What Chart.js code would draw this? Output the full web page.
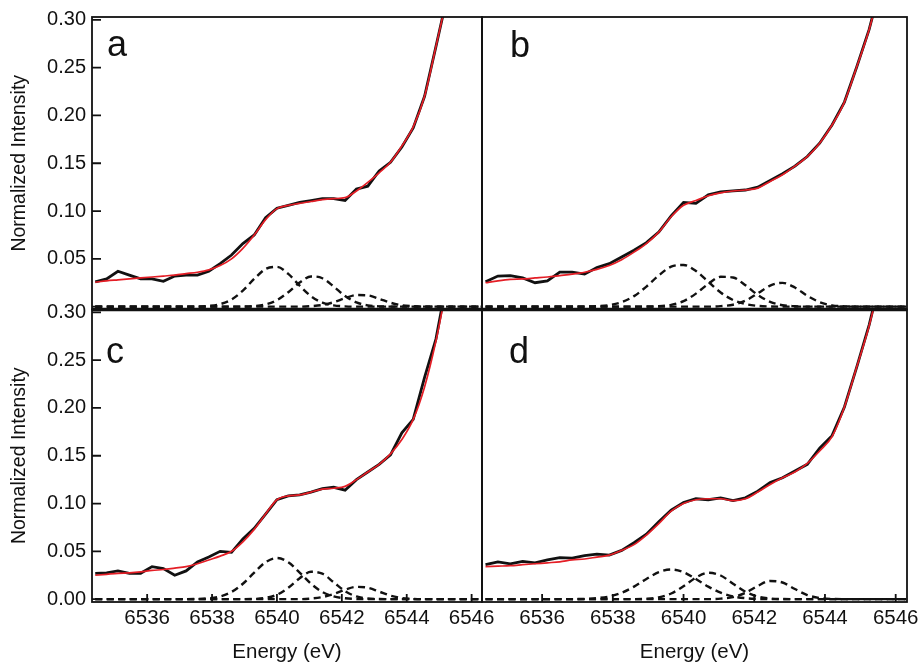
<!DOCTYPE html>
<html>
<head>
<meta charset="utf-8">
<script src="https://cdn.jsdelivr.net/npm/chart.js@4.4.1/dist/chart.umd.min.js"></script>
<style>
html,body{margin:0;padding:0;background:#fff;}
#wrap{width:920px;height:665px;position:relative;}
</style>
</head>
<body>
<div id="wrap"><canvas id="chart" width="920" height="665"></canvas></div>
<script>
// ---- data ----
const energy = [6534.40, 6534.75, 6535.10, 6535.45, 6535.80, 6536.15, 6536.50, 6536.85, 6537.20, 6537.55,
                6537.90, 6538.25, 6538.60, 6538.95, 6539.30, 6539.65, 6540.00, 6540.35, 6540.70, 6541.05,
                6541.40, 6541.75, 6542.10, 6542.45, 6542.80, 6543.15, 6543.50, 6543.85, 6544.20, 6544.55,
                6544.90, 6545.25, 6545.60, 6545.95, 6546.30];

const aData = [0.026, 0.029, 0.037, 0.033, 0.029, 0.029, 0.0265, 0.032, 0.033, 0.033,
               0.037, 0.045, 0.054, 0.066, 0.075, 0.093, 0.103, 0.106, 0.109, 0.111,
               0.113, 0.113, 0.111, 0.123, 0.126, 0.142, 0.151, 0.167, 0.187, 0.220,
               0.272, 0.325, null, null, null];
const aFit  = [0.0255, 0.027, 0.028, 0.029, 0.030, 0.031, 0.032, 0.033, 0.0345, 0.036,
               0.0385, 0.043, 0.050, 0.061, 0.075, 0.091, 0.1025, 0.106, 0.108, 0.110,
               0.112, 0.113, 0.114, 0.121, 0.130, 0.140, 0.151, 0.168, 0.188, 0.220,
               0.272, 0.325, null, null, null];
const aPeak1 = [0,0,0,0,0,0,0,0,0,0, 0.0007,0.0026,0.0075,0.0167,0.0291,0.0394,0.0416,0.0342,0.0219,0.0109,
                0.0042,0.0013,0.0003,0,0,0,0,0,0,0, 0,0,0,0,0];
const aPeak2 = [0,0,0,0,0,0,0,0,0,0, 0,0,0,0.0001,0.0006,0.0023,0.0068,0.0151,0.0252,0.0316,
                0.0297,0.0210,0.0111,0.0044,0.0013,0.0003,0,0,0,0, 0,0,0,0,0];
const aPeak3 = [0,0,0,0,0,0,0,0,0,0, 0,0,0,0,0,0,0,0,0,0.0005,
                0.0017,0.0046,0.0088,0.0121,0.0118,0.0082,0.0041,0.0014,0.0004,0, 0,0,0,0,0];

const bData = [0.026, 0.032, 0.0325, 0.030, 0.025, 0.027, 0.036, 0.036, 0.034, 0.041,
               0.045, 0.052, 0.059, 0.067, 0.078, 0.095, 0.109, 0.108, 0.117, 0.120,
               0.121, 0.122, 0.125, 0.132, 0.139, 0.147, 0.157, 0.171, 0.190, 0.214,
               0.251, 0.290, 0.340, null, null];
const bFit  = [0.025, 0.027, 0.0285, 0.029, 0.030, 0.031, 0.0325, 0.034, 0.036, 0.039,
               0.043, 0.049, 0.057, 0.066, 0.078, 0.094, 0.106, 0.111, 0.116, 0.119,
               0.121, 0.122, 0.124, 0.131, 0.138, 0.147, 0.157, 0.171, 0.190, 0.214,
               0.251, 0.290, 0.340, null, null];
const bPeak1 = [0,0,0,0,0,0,0,0,0,0.0005, 0.0016,0.0047,0.011,0.021,0.0327,0.0418,0.0436,0.0373,0.026,0.0148,
                0.0069,0.0027,0.0008,0.0002,0,0,0,0,0,0, 0,0,0,0,0];
const bPeak2 = [0,0,0,0,0,0,0,0,0,0, 0,0,0,0.0001,0.0004,0.0019,0.0058,0.0136,0.0238,0.0312,
                0.0305,0.0224,0.0123,0.005,0.0015,0.0004,0,0,0,0, 0,0,0,0,0];
const bPeak3 = [0,0,0,0,0,0,0,0,0,0, 0,0,0,0,0,0,0,0,0,0.0005,
                0.002,0.0062,0.0139,0.022,0.0249,0.020,0.0114,0.0047,0.0013,0.0003, 0,0,0,0,0];

const cData = [0.027, 0.0275, 0.0295, 0.027, 0.027, 0.034, 0.032, 0.025, 0.0295, 0.039,
               0.044, 0.050, 0.049, 0.063, 0.074, 0.089, 0.104, 0.108, 0.109, 0.112,
               0.1155, 0.117, 0.114, 0.125, 0.133, 0.141, 0.151, 0.174, 0.188, 0.232,
               0.272, 0.335, null, null, null];
const cFit  = [0.025, 0.026, 0.027, 0.0275, 0.0285, 0.030, 0.031, 0.0325, 0.034, 0.037,
               0.041, 0.045, 0.050, 0.060, 0.073, 0.089, 0.104, 0.108, 0.109, 0.112,
               0.115, 0.116, 0.118, 0.125, 0.133, 0.141, 0.152, 0.167, 0.188, 0.222,
               0.270, 0.330, null, null, null];
const cPeak1 = [0,0,0,0,0,0,0,0,0,0.0002, 0.0009,0.0028,0.0075,0.0161,0.0278,0.0386,0.043,0.0386,0.0278,0.0161,
                0.0075,0.0028,0.0009,0.0002,0,0,0,0,0,0, 0,0,0,0,0];
const cPeak2 = [0,0,0,0,0,0,0,0,0,0, 0,0,0,0,0.0002,0.0013,0.0046,0.0119,0.0219,0.0286,
                0.0266,0.0176,0.0083,0.0028,0.0007,0.0001,0,0,0,0, 0,0,0,0,0];
const cPeak3 = [0,0,0,0,0,0,0,0,0,0, 0,0,0,0,0,0,0,0,0,0.0006,
                0.0021,0.0053,0.0098,0.0128,0.0119,0.0079,0.0037,0.0012,0.0003,0, 0,0,0,0,0];

const dData = [0.036, 0.039, 0.037, 0.0395, 0.038, 0.041, 0.0435, 0.043, 0.0455, 0.047,
               0.046, 0.051, 0.059, 0.068, 0.081, 0.093, 0.101, 0.105, 0.104, 0.106,
               0.103, 0.106, 0.113, 0.122, 0.127, 0.134, 0.141, 0.158, 0.171, 0.201,
               0.243, 0.287, 0.340, null, null];
const dFit  = [0.034, 0.0345, 0.035, 0.036, 0.037, 0.038, 0.039, 0.041, 0.042, 0.044,
               0.046, 0.051, 0.057, 0.067, 0.079, 0.092, 0.100, 0.104, 0.105, 0.105,
               0.103, 0.105, 0.112, 0.120, 0.127, 0.133, 0.142, 0.155, 0.170, 0.201,
               0.243, 0.286, 0.340, null, null];
const dPeak1 = [0,0,0,0,0,0,0,0,0.0003,0.001, 0.0028,0.0067,0.0131,0.0211,0.0282,0.031,0.0282,0.0211,0.0131,0.0067,
                0.0028,0.001,0.0003,0,0,0,0,0,0,0, 0,0,0,0,0];
const dPeak2 = [0,0,0,0,0,0,0,0,0,0, 0,0,0,0.0004,0.0019,0.0059,0.0135,0.0226,0.0276,0.0247,
                0.0161,0.0077,0.0027,0.0007,0.0001,0,0,0,0,0, 0,0,0,0,0];
const dPeak3 = [0,0,0,0,0,0,0,0,0,0, 0,0,0,0,0,0,0,0,0,0.0005,
                0.0021,0.0066,0.0138,0.019,0.0174,0.0106,0.0043,0.0012,0.0002,0, 0,0,0,0,0];

const yTickValues = [0, 0.05, 0.10, 0.15, 0.20, 0.25, 0.30];
const xTickValues = [6536, 6538, 6540, 6542, 6544, 6546];
const panelLetters = ['a', 'b', 'c', 'd'];

// ---- chart ----
const FONT = '"Liberation Sans", Arial, Helvetica, sans-serif';
const INK = '#111';
const RED = '#e41e26';

function pts(ys) { return energy.map((x, i) => ({ x: x, y: ys[i] })); }

const panels = [
  { x: 'xc', y: 'ya', data: aData, fit: aFit, peaks: [aPeak1, aPeak2, aPeak3] },
  { x: 'xd', y: 'ya', data: bData, fit: bFit, peaks: [bPeak1, bPeak2, bPeak3] },
  { x: 'xc', y: 'yc', data: cData, fit: cFit, peaks: [cPeak1, cPeak2, cPeak3] },
  { x: 'xd', y: 'yc', data: dData, fit: dFit, peaks: [dPeak1, dPeak2, dPeak3] }
];
const labelPlace = [
  { dx: 15, dy: 39, yTicks: true,  xTicks: false },
  { dx: 28, dy: 40, yTicks: false, xTicks: false },
  { dx: 14, dy: 53, yTicks: true,  xTicks: true },
  { dx: 27, dy: 53, yTicks: false, xTicks: true }
];

const datasets = [];
panels.forEach(p => {
  datasets.push({ data: pts(p.fit), xAxisID: p.x, yAxisID: p.y, borderColor: RED, borderWidth: 1.7,
    pointRadius: 0, cubicInterpolationMode: 'monotone', order: 0 });
  datasets.push({ data: pts(p.data), xAxisID: p.x, yAxisID: p.y, borderColor: INK, borderWidth: 2.8,
    pointRadius: 0, tension: 0, order: 1 });
  p.peaks.forEach(pk => {
    datasets.push({ data: pts(pk), xAxisID: p.x, yAxisID: p.y, borderColor: INK, borderWidth: 2.4,
      borderDash: [7, 4.5], pointRadius: 0, cubicInterpolationMode: 'monotone', order: 2 });
  });
});

function yAxis(weight, hideZero) {
  return {
    type: 'linear', position: 'left', stack: 'vert', stackWeight: 1, weight: weight,
    min: -0.003, max: 0.303,
    afterBuildTicks: s => { s.ticks = yTickValues.map(v => ({ value: v })); },
    afterFit: s => { s.width = 92; s.paddingTop = 0; s.paddingBottom = 0; },
    grid: { display: false, drawTicks: false },
    border: { display: false },
    ticks: { padding: 6, color: INK, font: { family: FONT, size: 20 },
      callback: v => (hideZero && v === 0) ? '' : v.toFixed(2) },
    title: { display: true, text: 'Normalized Intensity', color: INK,
      font: { family: FONT, size: 19.5 }, padding: { top: 8, bottom: 0 } }
  };
}
function xAxis(weight, sw) {
  return {
    type: 'linear', position: 'bottom', stack: 'horiz', stackWeight: sw, weight: weight,
    min: 6534.3, max: 6546.32,
    afterBuildTicks: s => { s.ticks = xTickValues.map(v => ({ value: v })); },
    afterFit: s => { s.height = 63; s.paddingLeft = 0; s.paddingRight = 0; },
    grid: { display: false, drawTicks: false },
    border: { display: false },
    ticks: { padding: 4, color: INK, autoSkip: false, maxRotation: 0, font: { family: FONT, size: 20.5 },
      callback: v => String(v) },
    title: { display: true, text: 'Energy (eV)', color: INK,
      font: { family: FONT, size: 20.5 }, padding: { top: 0, bottom: 0 } }
  };
}

const framePlugin = {
  id: 'frame',
  afterDatasetsDraw(chart) {
    const ctx = chart.ctx;
    ctx.save();
    ctx.strokeStyle = INK;
    ctx.fillStyle = INK;
    panels.forEach((p, i) => {
      const xs = chart.scales[p.x], ys = chart.scales[p.y], lp = labelPlace[i];
      ctx.lineWidth = 1.8;
      ctx.setLineDash([]);
      ctx.strokeRect(xs.left, ys.top, xs.right - xs.left, ys.bottom - ys.top);
      ctx.beginPath();
      if (lp.yTicks) yTickValues.forEach(v => {
        const y = ys.getPixelForValue(v);
        ctx.moveTo(xs.left, y); ctx.lineTo(xs.left + 9, y);
      });
      if (lp.xTicks) xTickValues.forEach(v => {
        const x = xs.getPixelForValue(v);
        ctx.moveTo(x, ys.bottom); ctx.lineTo(x, ys.bottom - 8);
      });
      ctx.stroke();
      ctx.font = '36px ' + FONT;
      ctx.textBaseline = 'alphabetic';
      ctx.textAlign = 'left';
      ctx.fillText(panelLetters[i], xs.left + lp.dx, ys.top + lp.dy);
    });
    const ya = chart.scales.ya;
    ctx.lineWidth = 3.5;
    ctx.beginPath();
    ctx.moveTo(chart.chartArea.left, ya.bottom);
    ctx.lineTo(chart.chartArea.right, ya.bottom);
    ctx.stroke();
    ctx.restore();
  }
};

new Chart(document.getElementById('chart'), {
  type: 'line',
  data: { datasets: datasets },
  options: {
    responsive: false,
    animation: false,
    devicePixelRatio: 1,
    events: [],
    layout: { padding: { top: 17, right: 13, left: 0, bottom: 0 } },
    plugins: { legend: { display: false }, tooltip: { enabled: false } },
    scales: {
      yc: yAxis(0, false),
      ya: yAxis(1, true),
      xc: xAxis(0, 390),
      xd: xAxis(1, 425)
    }
  },
  plugins: [framePlugin]
});
</script>
</body>
</html>
